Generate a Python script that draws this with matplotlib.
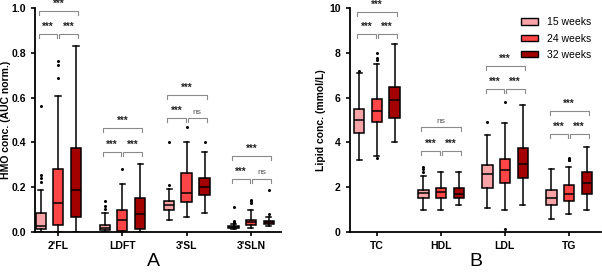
import numpy as np
import matplotlib.pyplot as plt
from matplotlib.patches import Patch

plt.rcParams['font.family'] = ['Liberation Sans', 'DejaVu Sans']

weeks = ["15 weeks", "24 weeks", "32 weeks"]
colors = ["#F7A3A8", "#FF4545", "#A30000"]

# ---------------- Panel A: HMO ----------------
hmo_cats = ["2'FL", "LDFT", "3'SL", "3'SLN"]
# per category, per week: [whislo, q1, med, q3, whishi]
hmo_stats = [
    [[0.0, 0.012, 0.025, 0.085, 0.187], [0.0, 0.032, 0.13, 0.283, 0.605], [0.0, 0.065, 0.188, 0.373, 0.832]],
    [[0.0, 0.007, 0.018, 0.032, 0.085], [0.0, 0.005, 0.054, 0.099, 0.216], [0.0, 0.014, 0.08, 0.15, 0.302]],
    [[0.055, 0.1, 0.119, 0.138, 0.193], [0.067, 0.134, 0.176, 0.265, 0.40], [0.083, 0.165, 0.20, 0.242, 0.355]],
    [[0.015, 0.019, 0.023, 0.027, 0.036], [0.016, 0.031, 0.043, 0.055, 0.097], [0.025, 0.035, 0.043, 0.05, 0.068]],
]
hmo_fliers = [
    [[0.223, 0.24, 0.253, 0.564], [0.685, 0.747, 0.762], []],
    [[0.103, 0.115, 0.14], [0.281], []],
    [[0.211, 0.40], [0.469], [0.40]],
    [[0.04, 0.045, 0.05, 0.11], [0.13, 0.138, 0.145], [0.08, 0.186]],
]
# significance: (low bracket y, pair labels, top bracket y, top label)
hmo_sig = [
    (0.884, ["***", "***"], 0.985, "***"),
    (0.357, ["***", "***"], 0.464, "***"),
    (0.509, ["***", "ns"], 0.61, "***"),
    (0.237, ["***", "ns"], 0.338, "***"),
]

# ---------------- Panel B: lipids ----------------
lip_cats = ["TC", "HDL", "LDL", "TG"]
lip_stats = [
    [[3.2, 4.4, 5.0, 5.48, 7.1], [3.4, 4.9, 5.4, 5.94, 7.5], [4.0, 5.1, 5.88, 6.47, 8.4]],
    [[1.0, 1.5, 1.72, 1.88, 2.5], [1.0, 1.5, 1.8, 1.98, 2.7], [1.2, 1.5, 1.7, 1.98, 2.7]],
    [[1.05, 1.97, 2.6, 2.97, 4.35], [0.97, 2.2, 2.75, 3.27, 4.88], [1.2, 2.42, 3.05, 3.73, 5.68]],
    [[0.6, 1.2, 1.5, 1.87, 2.8], [0.8, 1.4, 1.7, 2.08, 2.9], [1.0, 1.7, 2.2, 2.68, 3.8]],
]
lip_fliers = [
    [[7.2], [3.3, 7.67, 7.78, 7.98], []],
    [[2.7, 2.8, 2.9], [], []],
    [[4.9], [0.15, 5.8], []],
    [[], [3.2, 3.2, 3.3], []],
]
lip_sig = [
    (8.82, ["***", "***"], 9.81, "***"),
    (3.62, ["***", "***"], 4.67, "ns"),
    (6.38, ["***", "***"], 7.4, "***"),
    (4.37, ["***", "***"], 5.38, "***"),
]

offsets = [-0.27, 0.0, 0.28]
box_w = 0.16
gray = "#8a8a8a"


def sig_text(ax, x, y, t):
    star = t != "ns"
    ax.text(x, y, t, ha="center", va="bottom", clip_on=False,
            fontsize=7 if star else 6, color="#222222" if star else "#555555",
            fontweight="bold" if star else "normal")


def draw_panel(ax, cats, stats, fliers, sig, ymax, ylabel, drop):
    for ci in range(len(cats)):
        for wi in range(3):
            lo, q1, med, q3, hi = stats[ci][wi]
            s = dict(whislo=lo, q1=q1, med=med, q3=q3, whishi=hi,
                     fliers=np.array(fliers[ci][wi]))
            ax.bxp([s], positions=[ci + offsets[wi]], widths=box_w,
                   patch_artist=True, showfliers=True, capwidths=box_w * 0.5,
                   boxprops=dict(facecolor=colors[wi], edgecolor="black", linewidth=1.1),
                   medianprops=dict(color="black", linewidth=1.1),
                   whiskerprops=dict(color="black", linewidth=1.1),
                   capprops=dict(color="black", linewidth=1.1),
                   flierprops=dict(marker="o", markersize=1.2, markerfacecolor="black",
                                   markeredgecolor="black", linestyle="none"))
        lo_y, pair_lbl, top_y, top_lbl = sig[ci]
        x0, x1, x2 = ci + offsets[0], ci + offsets[1], ci + offsets[2]
        g = 0.015
        for a, b, t in [(x0 - 0.03, x1 - g, pair_lbl[0]), (x1 + g, x2 + 0.03, pair_lbl[1])]:
            ax.plot([a, a, b, b], [lo_y - drop, lo_y, lo_y, lo_y - drop], color=gray, lw=0.8, clip_on=False)
            sig_text(ax, (a + b) / 2, lo_y + drop * 0.6, t)
        a, b = x0 - 0.03, x2 + 0.03
        ax.plot([a, a, b, b], [top_y - drop, top_y, top_y, top_y - drop], color=gray, lw=0.8, clip_on=False)
        sig_text(ax, (a + b) / 2, top_y + drop * 0.6, top_lbl)

    ax.set_ylim(0, ymax)
    ax.set_xticks(range(len(cats)))
    ax.set_xticklabels(cats, fontsize=7.5, fontweight="bold")
    ax.tick_params(axis="y", labelsize=7.5, width=1.2, length=3)
    ax.tick_params(axis="x", width=1.2, length=3)
    ax.set_ylabel(ylabel, fontsize=7.5, fontweight="bold")
    ax.spines["top"].set_visible(False)
    ax.spines["right"].set_visible(False)
    ax.spines["left"].set_linewidth(1.3)
    ax.spines["bottom"].set_linewidth(1.3)


fig = plt.figure(figsize=(6.02, 2.72), dpi=100)
axA = fig.add_axes([0.058, 0.147, 0.409, 0.824])
axB = fig.add_axes([0.581, 0.147, 0.417, 0.824])

draw_panel(axA, hmo_cats, hmo_stats, hmo_fliers, hmo_sig, 1.0, "HMO conc. (AUC norm.)", 0.018)
axA.set_xlim(-0.36, 3.47)
axA.set_yticks([0.0, 0.2, 0.4, 0.6, 0.8, 1.0])
axA.set_yticklabels(["0.0", "0.2", "0.4", "0.6", "0.8", "1.0"], fontweight="bold")
axA.yaxis.set_label_coords(-0.098, 0.5)

draw_panel(axB, lip_cats, lip_stats, lip_fliers, lip_sig, 10, "Lipid conc. (mmol/L)", 0.18)
axB.set_xlim(-0.42, 3.5)
axB.set_yticks([0, 2, 4, 6, 8, 10])
axB.set_yticklabels(["0", "2", "4", "6", "8", "10"], fontweight="bold")
axB.yaxis.set_label_coords(-0.093, 0.5)

handles = [Patch(facecolor=c, edgecolor="black", linewidth=1.0, label=w) for c, w in zip(colors, weeks)]
axB.legend(handles=handles, loc="upper right", bbox_to_anchor=(1.0, 1.0), frameon=False,
           fontsize=7.5, handlelength=1.6, handleheight=0.6, handletextpad=0.9, labelspacing=0.6)

fig.text(153 / 602, 1 - 262 / 272, "A", fontsize=14, ha="center", va="center")
fig.text(476 / 602, 1 - 262 / 272, "B", fontsize=14, ha="center", va="center")

fig.savefig("out.png", dpi=100)
